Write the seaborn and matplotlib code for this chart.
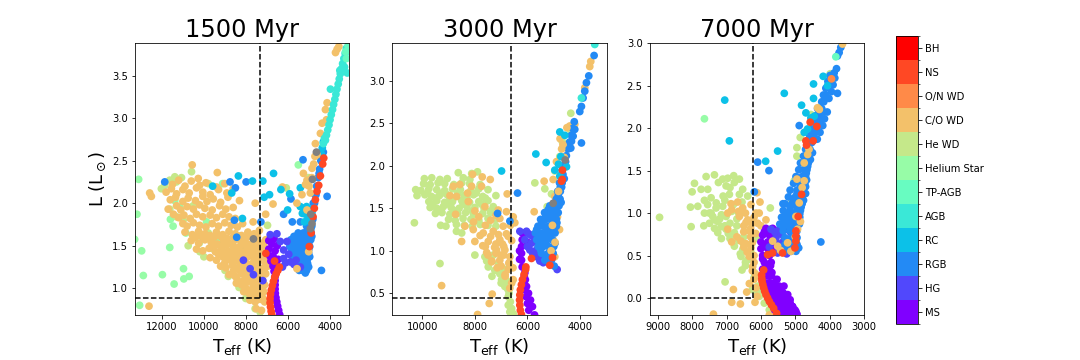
import numpy as np
import pandas as pd
import seaborn as sns
import matplotlib.pyplot as plt
from matplotlib.cm import ScalarMappable
from matplotlib.colors import BoundaryNorm, ListedColormap

stages = ['MS', 'HG', 'RGB', 'RC', 'AGB', 'TP-AGB', 'Helium Star', 'He WD', 'C/O WD', 'O/N WD', 'NS', 'BH']

ages = ['1500 Myr', '3000 Myr', '7000 Myr']
xlims = [(13284, 3056), (11140, 2986), (9240, 3000)]
ylims = [(0.686, 3.88), (0.244, 3.445), (-0.2, 3.0)]
xticks = [[12000, 10000, 8000, 6000, 4000], [10000, 8000, 6000, 4000], [9000, 8000, 7000, 6000, 5000, 4000, 3000]]
yticks = [[1.0, 1.5, 2.0, 2.5, 3.0, 3.5], [0.5, 1.0, 1.5, 2.0, 2.5, 3.0], [0.0, 0.5, 1.0, 1.5, 2.0, 2.5, 3.0]]
turnoff_t = [7330, 6634, 6242]
turnoff_l = [0.89, 0.448, 0.0]

# ---- 1500 Myr ----
hestar_t_1 = [13111, 13191, 13302, 12967, 11626, 10971, 11977, 12887, 10700, 10955, 11418, 13063, 11147, 11594, 11466, 10859, 11386, 5493, 9102, 9869, 9310]
hestar_l_1 = [2.28, 1.87, 1.575, 1.44, 1.48, 1.23, 1.16, 1.15, 1.14, 1.11, 1.05, 0.80, 1.95, 1.81, 1.73, 1.65, 2.03, 2.45, 2.23, 1.78, 1.55]
hewd_t_1 = [12025, 11865, 11626, 11386, 11067, 11306, 10588, 9789, 11626, 11306, 10987, 10747, 10108, 9789, 10220, 9997, 9629, 8990, 8831, 8320, 8000, 6962, 8192, 6068, 4998, 7314, 7553, 10508, 10188]
hewd_l_1 = [2.17, 2.21, 2.27, 2.31, 2.30, 2.25, 2.37, 2.23, 1.93, 1.84, 1.80, 1.50, 1.61, 1.65, 1.53, 1.37, 1.47, 1.21, 1.14, 1.01, 0.88, 1.74, 1.47, 2.18, 2.30, 0.72, 0.76, 1.97, 1.43]
co_t_1 = [11500, 11200, 10900, 10600, 10200, 9900, 9400, 9000,
          11800, 11550, 11300, 11000, 10700, 10350, 10050, 9700, 9300, 8900, 8600, 6250,
          11600, 11350, 11000, 10750, 10400, 10050, 9850, 9550, 9200, 8850, 8300,
          11700, 11300, 11100, 10800, 10500, 10200, 9950, 9600, 9250, 8950, 8600, 7550, 6700,
          11450, 11200, 10950, 10650, 10350, 10050, 9700, 9400, 9100, 8800, 8500, 7050,
          11000, 10800, 10500, 10200, 9900, 9600, 9300, 9000, 8700, 8400, 8150, 7650,
          10900, 10550, 10250, 9950, 9700, 9400, 9100, 8800, 8500, 8200, 7900, 7600, 7350,
          10400, 10100, 9800, 9500, 9200, 8900, 8600, 8300, 8000, 7700, 7450,
          10600, 10250, 9950, 9650, 9350, 9050, 8800, 8500, 8200, 7900, 7600, 7300, 7050,
          9500, 9200, 8900, 8600, 8300, 8000, 7700, 7400, 7150,
          10350, 10050, 9750, 9450, 9150, 8850, 8550, 8250, 7950, 7650, 7350, 7100,
          9300, 9000, 8700, 8400, 8100, 7800, 7500, 7200,
          9700, 9400, 9100, 8800, 8500, 8200, 7900, 7600, 7300, 7000,
          9000, 8600, 8300, 8000, 7700, 7400, 7050,
          9200, 8950, 8650, 8350, 8050, 7750, 7450, 7150, 6950,
          8600, 8300, 8000, 7700, 7400, 7100,
          8800, 8500, 8200, 7900, 7600, 7300, 7050,
          8400, 8100, 7800, 7500, 7200,
          8450, 8200, 7950, 7650, 7350, 7100,
          8000, 7700, 7450, 7200,
          8100, 7850, 7600, 7350, 7150,
          7650, 7400, 7200,
          7800, 7550, 7300, 7100,
          7500, 7250,
          10555, 9358, 12584, 12504, 12616, 10268]
co_l_1 = [2.22, 2.27, 2.20, 2.26, 2.21, 2.24, 2.19, 2.23,
          2.13, 2.17, 2.11, 2.16, 2.12, 2.18, 2.13, 2.10, 2.16, 2.12, 2.17, 2.19,
          2.04, 2.07, 2.02, 2.06, 2.03, 2.08, 2.02, 2.05, 2.01, 2.07, 2.03,
          1.93, 1.97, 1.92, 1.96, 1.93, 1.98, 1.94, 1.92, 1.97, 1.93, 1.95, 2.00, 1.99,
          1.87, 1.83, 1.86, 1.82, 1.87, 1.84, 1.86, 1.83, 1.87, 1.84, 1.82, 1.87,
          1.76, 1.73, 1.77, 1.74, 1.72, 1.76, 1.73, 1.77, 1.74, 1.72, 1.76, 1.78,
          1.66, 1.63, 1.67, 1.64, 1.62, 1.66, 1.63, 1.67, 1.64, 1.62, 1.66, 1.64, 1.68,
          1.60, 1.61, 1.59, 1.60, 1.61, 1.59, 1.60, 1.61, 1.59, 1.60, 1.61,
          1.56, 1.53, 1.57, 1.54, 1.52, 1.56, 1.53, 1.57, 1.54, 1.52, 1.56, 1.53, 1.57,
          1.50, 1.49, 1.51, 1.50, 1.49, 1.51, 1.50, 1.49, 1.51,
          1.46, 1.44, 1.47, 1.43, 1.46, 1.44, 1.47, 1.43, 1.46, 1.44, 1.47, 1.43,
          1.40, 1.39, 1.41, 1.40, 1.39, 1.41, 1.40, 1.39,
          1.36, 1.33, 1.37, 1.34, 1.36, 1.33, 1.37, 1.34, 1.36, 1.33,
          1.30, 1.29, 1.31, 1.30, 1.29, 1.31, 1.30,
          1.26, 1.24, 1.27, 1.24, 1.26, 1.24, 1.27, 1.24, 1.26,
          1.20, 1.21, 1.19, 1.20, 1.21, 1.19,
          1.16, 1.14, 1.17, 1.14, 1.16, 1.14, 1.17,
          1.10, 1.09, 1.11, 1.10, 1.09,
          1.06, 1.04, 1.07, 1.04, 1.06, 1.04,
          1.00, 0.99, 1.01, 1.00,
          0.96, 0.94, 0.97, 0.94, 0.96,
          0.90, 0.91, 0.89,
          0.86, 0.84, 0.87, 0.84,
          0.76, 0.74,
          2.45, 2.36, 2.12, 2.08, 0.79, 2.29]
ms_t_1 = [6380, 6430, 6480, 6520, 6560, 6590, 6600, 6600, 6600, 6600, 6650, 6700, 6800, 6850, 6500, 6550, 6700, 6900, 6450, 6600, 6750, 6500, 6650, 6800, 6900]
ms_l_1 = [0.69, 0.74, 0.79, 0.84, 0.89, 0.94, 0.99, 1.04, 1.09, 1.14, 1.20, 1.26, 1.32, 1.38, 1.22, 1.30, 1.38, 1.46, 1.34, 1.44, 1.52, 1.50, 1.58, 1.60, 1.56]
hg_t_1 = [6515, 6835, 6036, 6196, 5877, 5397, 7633, 7186, 7793, 8112, 6196, 5950, 6350, 6100, 5700, 6250, 5600]
hg_l_1 = [1.64, 1.63, 1.55, 1.45, 1.31, 1.25, 1.16, 1.09, 1.23, 1.33, 1.35, 1.40, 1.55, 1.30, 1.28, 1.25, 1.33]
rgb_t_1 = [5158, 5557, 5370, 5200, 5000, 5717, 5397, 5078, 5800, 5600, 5400, 5200, 5000, 5900, 5700, 5500, 5300, 5100, 4950, 5850, 5650, 5450, 5250, 5050, 4900, 5500, 5250, 5000, 4880, 5100, 4950, 4850, 4950, 4800, 4720, 4650, 4580, 4500, 4380, 4300,
           5270, 4120, 4390, 8432, 8751, 8495, 7984, 6196, 5780, 5397, 5844, 8543, 7280, 11865]
rgb_l_1 = [1.18, 1.25, 1.25, 1.25, 1.25, 1.33, 1.33, 1.33, 1.41, 1.41, 1.41, 1.41, 1.41, 1.49, 1.49, 1.49, 1.49, 1.49, 1.49, 1.57, 1.57, 1.57, 1.57, 1.57, 1.57, 1.65, 1.65, 1.65, 1.65, 1.73, 1.73, 1.73, 1.81, 1.81, 2.00, 2.10, 2.20, 2.35, 2.50, 2.60,
           2.51, 2.08, 1.21, 1.60, 2.25, 2.18, 2.25, 1.87, 1.78, 1.78, 2.05, 1.80, 1.78, 2.25]
rgb2_t_1 = [5450, 5280, 5100, 5650, 5450, 5250, 5050, 5750, 5550, 5350, 5150, 4950, 5800, 5600, 5400, 5200, 5000, 5800, 5600, 5400, 5200, 5000, 5700, 5400, 5150, 4950, 4850, 5050, 4900, 5050, 4880, 4850, 4780, 4700, 4620, 4540, 4480, 4420, 4350]
rgb2_l_1 = [1.21, 1.21, 1.21, 1.29, 1.29, 1.29, 1.29, 1.37, 1.37, 1.37, 1.37, 1.37, 1.45, 1.45, 1.45, 1.45, 1.45, 1.53, 1.53, 1.53, 1.53, 1.53, 1.61, 1.61, 1.61, 1.61, 1.61, 1.69, 1.69, 1.77, 1.77, 1.90, 2.00, 2.10, 2.20, 2.30, 2.40, 2.50, 2.60]
rc_t_1 = [9581, 8352, 7681, 7186, 6675, 7122, 6866, 6324, 5908, 5397, 6004, 8160, 8671, 5400, 5250, 5100, 4950, 5300, 5150, 5000, 4850, 5200, 5050, 4900, 4400, 4350, 4300]
rc_l_1 = [2.20, 2.32, 2.26, 2.26, 2.35, 2.07, 2.10, 2.16, 2.11, 2.18, 1.92, 1.82, 2.12, 1.96, 1.94, 1.96, 1.93, 1.88, 1.87, 1.86, 1.88, 1.78, 1.80, 1.78, 2.58, 2.65, 2.72]
co2_t_1 = [3560, 3720, 3640, 4120, 4200, 4150, 4360, 4440, 4680, 4600, 4840, 5080, 5320, 5560, 4920, 5080, 5000, 5557, 5250, 4700, 4980, 4760, 5150, 4850]
co2_l_1 = [3.84, 3.77, 3.81, 3.18, 3.10, 2.98, 2.94, 2.82, 2.70, 2.57, 2.41, 2.27, 2.10, 2.00, 2.12, 1.92, 1.43, 1.23, 2.35, 2.55, 2.20, 2.46, 2.22, 2.30]
agb_t_1 = [4200, 4150, 4090, 4030, 3980, 3920, 3860, 3810, 3750, 3700, 3650, 3590, 3540, 3490, 3430, 3380, 3320, 3260, 3200, 3960, 3513, 3162, 4300, 4250, 3290]
agb_l_1 = [2.74, 2.80, 2.86, 2.92, 2.98, 3.04, 3.10, 3.16, 3.22, 3.28, 3.34, 3.40, 3.46, 3.52, 3.58, 3.64, 3.70, 3.76, 3.82, 3.34, 3.56, 3.53, 2.70, 2.76, 3.60]
tpagb_t_1 = [3240, 3120, 3200]
tpagb_l_1 = [3.78, 3.85, 3.70]
ns_t_1 = [6760, 6790, 6820, 6840, 6840, 6820, 6780, 6730, 6680, 6620, 6550, 6470, 6400, 4790, 4730, 4680, 4600, 4520, 4440, 4330, 4280, 4880, 4970, 6627, 7042]
ns_l_1 = [0.69, 0.73, 0.78, 0.83, 0.88, 0.93, 0.98, 1.03, 1.08, 1.13, 1.17, 1.21, 1.25, 1.84, 1.94, 2.04, 2.14, 2.21, 2.32, 2.46, 2.53, 1.65, 1.49, 1.32, 1.41]
grey_t_1 = [4630, 4820, 4900, 4840, 4920, 7633]
grey_l_1 = [2.60, 2.28, 1.87, 1.76, 1.70, 1.58]

# ---- 3000 Myr ----
hewd_t_2 = [8630, 8120, 7900,
            9920, 9640, 9330, 9050, 8440, 8190,
            9950, 9700, 9400, 9150, 8800, 8500, 8200, 7800,
            10250, 10050, 9750, 9450, 9150, 8850, 8550, 8150, 7850, 7500,
            10200, 9900, 9650, 9350, 9050, 8700, 8400, 8050, 7700, 7200,
            9750, 9450, 9150, 8850, 8500, 8200, 7850, 7500,
            9700, 9450, 9200, 8900, 8600, 8300, 8000, 7650, 7300,
            9500, 9250, 8950, 8650, 8350, 8050, 7700, 7400,
            9000, 8750, 8450, 8150, 7850, 7500, 7200,
            9300, 9100, 8700, 8400, 8100, 7800, 7500, 7200,
            8700, 8500, 8000, 9327, 7618,
            7490, 7240, 7050, 6985, 6860, 6730, 6730, 6670, 6540, 10300,
            4352, 4680, 4390, 5719, 5340, 5086, 5250, 4960, 4770, 6600, 6850,
            7300, 7100, 6900, 6800, 6750, 7550, 7350, 7000, 6650, 6700, 6600,
            9800, 9500, 9250, 8950, 8650, 8300, 7950, 7600, 9600, 9300, 9000, 8750, 8450, 8100, 7750, 7400]
hewd_l_2 = [1.92, 1.91, 1.93,
            1.85, 1.86, 1.84, 1.85, 1.86, 1.84,
            1.79, 1.78, 1.80, 1.79, 1.78, 1.80, 1.79, 1.78,
            1.72, 1.71, 1.73, 1.72, 1.71, 1.73, 1.72, 1.71, 1.73, 1.72,
            1.65, 1.66, 1.64, 1.65, 1.66, 1.64, 1.65, 1.66, 1.64, 1.65,
            1.58, 1.59, 1.57, 1.58, 1.59, 1.57, 1.58, 1.59,
            1.51, 1.50, 1.52, 1.51, 1.50, 1.52, 1.51, 1.50, 1.52,
            1.44, 1.45, 1.43, 1.44, 1.45, 1.43, 1.44, 1.45,
            1.37, 1.36, 1.38, 1.37, 1.36, 1.38, 1.37,
            1.30, 1.29, 1.31, 1.30, 1.29, 1.31, 1.30, 1.29,
            1.23, 1.21, 0.95, 0.85, 0.93,
            0.81, 0.77, 0.73, 0.66, 0.58, 0.46, 0.36, 0.28, 0.26, 1.33,
            2.62, 2.29, 2.43, 1.80, 1.73, 1.67, 1.52, 1.94, 2.11, 1.35, 0.78,
            0.95, 0.85, 0.75, 0.65, 0.55, 0.88, 0.70, 0.62, 0.40, 0.50, 0.32,
            1.68, 1.62, 1.68, 1.62, 1.68, 1.62, 1.68, 1.62, 1.55, 1.47, 1.55, 1.47, 1.55, 1.47, 1.55, 1.47]
co_t_2 = [8086, 7719, 7415, 8570, 8820, 8125, 7745, 8694, 8947, 8276, 7618, 7111, 6770, 8732, 7998, 8378, 8061, 7681, 7302, 6922, 6542, 6480, 8504, 8000, 7491, 7050, 6732, 7175, 6858, 7365, 7050, 6670, 6732, 6542, 6670, 7340, 7453, 9264, 7897, 5365, 5744,
          7600, 7200, 6900, 7500, 7000, 6700, 7150, 6850,
          7800, 7400, 7100, 6800, 7700, 7250, 6950, 6650, 7550, 7200, 6900, 6600, 7350, 7000, 6700, 6550, 6850, 6600,
          8250, 7850, 7400, 7050, 8050, 7600, 7200, 6800,
          4896, 5023, 4960, 4200, 4390, 3592, 3630, 3820, 4516, 5023, 4960, 4860, 4780]
co_l_2 = [1.90, 1.87, 1.84, 1.78, 1.76, 1.76, 1.76, 1.64, 1.65, 1.68, 1.52, 1.48, 1.67, 1.43, 1.47, 1.29, 1.25, 1.21, 1.23, 1.29, 1.40, 1.33, 1.11, 1.11, 1.11, 1.13, 1.17, 1.01, 1.01, 0.87, 0.89, 0.93, 0.78, 0.66, 0.56, 0.49, 0.38, 0.59, 0.25, 1.82, 1.46,
          1.05, 1.08, 1.05, 0.95, 0.95, 0.85, 0.80, 0.72,
          1.18, 1.17, 1.19, 1.20, 1.06, 1.04, 1.08, 1.30, 0.98, 0.97, 0.95, 1.12, 0.88, 0.82, 0.86, 0.80, 0.70, 0.62,
          1.58, 1.40, 1.36, 1.38, 1.34, 1.30, 1.42, 1.46,
          2.05, 1.84, 1.64, 2.49, 2.47, 3.23, 3.17, 2.92, 2.21, 1.13, 0.93, 1.40, 1.25]
ms_t_2 = [5730, 5810, 5884, 5960, 6036, 6080, 6100, 6200, 6225, 6225, 6225, 6200, 6200, 6050, 6000, 5950, 6000, 6050, 6100, 6120, 6120, 6300, 6300]
ms_l_2 = [0.245, 0.343, 0.42, 0.50, 0.58, 0.66, 0.74, 0.81, 0.89, 0.97, 1.05, 1.13, 1.21, 1.22, 1.10, 0.30, 0.38, 0.46, 0.54, 0.62, 0.70, 1.00, 0.90]
hg_t_2 = [6289, 6036, 5782, 6099, 5846, 5592, 5909, 5529, 4871, 5950, 5700, 5800, 5650, 6000, 5850, 5700, 5600, 5500, 5400]
hg_l_2 = [1.23, 1.23, 1.17, 1.13, 1.09, 1.05, 1.01, 0.88, 0.78, 1.20, 1.12, 0.97, 0.93, 1.05, 1.18, 1.00, 0.95, 0.92, 0.86]
rgb_t_2 = [4980, 5086, 5340, 5466, 5213, 5023, 5590, 5400, 5200, 5000, 5650, 5450, 5250, 5050,
           5700, 5500, 5300, 5100, 4950, 5600, 5400, 5200, 5000, 4900, 5500, 5300, 5100, 4900, 5350, 5150, 4950, 4830, 5150, 4950, 4800, 4900, 4760, 4850, 4750, 4780, 4680, 4700, 4650, 4640, 4570,
           4263, 4326, 4200, 3947, 4010, 3947, 3883, 3820, 3757, 3668, 3465, 4352, 7137, 6377, 6668]
rgb_l_2 = [0.82, 0.89, 0.89, 0.97, 0.97, 0.97, 1.05, 1.05, 1.05, 1.05, 1.13, 1.13, 1.13, 1.13,
           1.21, 1.21, 1.21, 1.21, 1.21, 1.29, 1.29, 1.29, 1.29, 1.29, 1.37, 1.37, 1.37, 1.37, 1.45, 1.45, 1.45, 1.45, 1.53, 1.53, 1.53, 1.61, 1.61, 1.70, 1.70, 1.80, 1.80, 1.90, 1.90, 2.00, 2.00,
           2.35, 2.29, 2.43, 2.27, 2.64, 2.70, 2.80, 2.88, 2.98, 3.06, 3.30, 2.21, 1.44, 1.68, 1.35]
rgb2_t_2 = [5150, 5300, 5500, 5100, 5350, 5550, 4950, 5350, 5150, 5550, 5000, 5650, 5250, 5450, 5050, 4880, 5300, 5100, 4930, 5200, 5050, 4850, 4720, 4830, 4700, 4750, 4600, 4680, 4550, 4520, 4450, 4400, 4330, 4280, 4220]
rgb2_l_2 = [0.85, 0.93, 1.01, 1.01, 1.09, 1.09, 1.09, 1.17, 1.17, 1.17, 1.25, 1.25, 1.25, 1.33, 1.33, 1.33, 1.41, 1.41, 1.41, 1.49, 1.49, 1.57, 1.57, 1.65, 1.75, 1.75, 1.85, 1.95, 2.05, 2.12, 2.20, 2.28, 2.36, 2.44, 2.52]
rc_t_2 = [6985, 5681, 5289, 4770, 4580, 4732, 4960, 4516, 4770, 4820]
rc_l_2 = [1.94, 2.14, 2.04, 2.40, 2.36, 2.11, 1.95, 1.99, 1.88, 2.02]
co3_t_2 = [4700, 4950, 5100, 4650, 5050, 4820, 4600, 4500, 4760]
co3_l_2 = [2.20, 1.10, 1.00, 2.25, 1.30, 1.70, 2.10, 2.45, 2.32]
agb_t_2 = [3947, 3440]
agb_l_2 = [2.80, 3.43]
ns_t_2 = [6230, 6270, 6290, 6300, 6290, 6270, 6230, 6190, 6130, 6070, 6060, 5846, 5048, 5150, 4668, 4680, 4706]
ns_l_2 = [0.25, 0.30, 0.36, 0.42, 0.48, 0.54, 0.60, 0.66, 0.72, 0.78, 0.81, 0.91, 0.92, 0.83, 1.95, 1.84, 1.82]
grey_t_2 = [4567, 5023]
grey_l_2 = [2.07, 1.56]

# ---- 7000 Myr ----
hestar_t_3 = [7644]
hestar_l_3 = [2.11]
tpagb_t_3 = [3820]
tpagb_l_3 = [2.84]
hewd_t_3 = [8950, 8031, 8050, 7934, 8002, 7595, 7353, 6792, 6627, 6966, 7111, 7237, 7740, 7547, 7014, 6773, 6530, 6918, 6627, 6385, 7644, 7450, 7837, 7305, 7644, 7402, 7111, 7663, 7498, 7256, 7014, 7256, 7014, 6773, 6773, 6530, 6579, 6385, 6550, 7043, 6095, 6046, 5901, 5756, 6192,
            7500, 7350, 7200, 7050, 6900, 6700, 7100, 6900, 6500, 6600, 6300, 6450, 6300, 6200, 6150,
            7550, 7300, 7050, 6800, 6550, 7450, 7150, 6850, 6650, 7350, 7150, 6950, 6700, 7150, 6900, 6650, 6500, 6450, 6250, 6100, 6000,
            5727, 5098, 5030, 4953, 4953, 4856, 4546, 3984, 5727, 6240]
hewd_l_3 = [0.95, 0.84, 1.07, 1.35, 1.25, 1.43, 1.45, 1.44, 1.40, 1.41, 1.40, 1.36, 1.28, 1.28, 1.32, 1.36, 1.28, 1.22, 1.22, 1.20, 1.15, 1.18, 1.08, 1.06, 1.00, 0.96, 1.08, 0.85, 0.88, 0.90, 0.96, 0.77, 0.81, 0.77, 0.61, 0.57, 0.49, 0.45, 0.33, 0.19, 0.14, 0.02, -0.06, -0.14, 0.30,
            1.00, 0.82, 0.93, 0.85, 0.88, 0.85, 1.20, 1.30, 0.72, 0.52, 0.78, 0.38, 0.55, 0.24, 0.70,
            1.10, 1.12, 1.15, 1.10, 1.13, 1.00, 0.98, 1.02, 1.00, 0.92, 0.84, 0.76, 0.93, 0.70, 0.70, 0.68, 0.63, 0.42, 0.10, 0.06, 0.10,
            1.06, 1.15, 1.38, 1.77, 1.67, 1.89, 2.16, 2.64, 0.81, 0.69]
co_t_3 = [6114, 6027, 6676, 6869, 6850, 6530, 6289, 6143, 5853, 6095, 6385, 6627, 6434, 6966, 6850, 6579, 6434, 6289, 6337, 6240, 6337, 6801, 6414, 6850, 6598, 6172, 6114, 7382, 5756, 6966, 6337,
          6200, 6300, 6500, 6200, 6150, 6000, 6650, 6450, 6250, 6050, 6500, 6300, 6150, 6700, 6500, 6250, 6400, 6200, 6250, 6200, 6150]
co_l_3 = [1.24, 1.13, 1.13, 1.11, 1.04, 1.06, 1.10, 1.00, 0.92, 0.88, 0.92, 0.96, 0.89, 0.81, 0.66, 0.67, 0.64, 0.59, 0.49, 0.37, 0.17, 0.10, 0.07, -0.05, -0.07, -0.05, 0.02, -0.19, -0.20, 1.00, 0.79,
          0.95, 0.72, 0.78, 0.50, 0.28, 0.85, 1.02, 1.00, 0.88, 1.00, 0.85, 0.82, 0.76, 0.72, 0.60, 0.65, 0.54, 0.42, 0.32, 0.22, 0.12]
ms_t_3 = [5853, 5659, 5950, 5750, 5550, 6000, 5800, 5600, 6000, 5800, 5600, 5950, 5750, 5900, 5700, 5950, 5800,
          5950, 5820, 5690, 5900, 5750, 5600, 5850, 5700, 5550, 5420, 5800, 5650, 5500, 5350, 5280, 5700, 5550, 5400, 5250, 5150, 5600, 5450, 5300, 5150, 5010, 5500, 5350, 5200, 5050, 4950,
          5900, 5700, 5500, 5900, 5700, 5950, 5850, 5720, 5830, 5680, 5530, 5780, 5620, 5470, 5330, 5650, 5500, 5350, 5220, 5600, 5450, 5300, 5150, 5080, 5530, 5380, 5230, 5080, 4980]
ms_l_3 = [0.82, 0.82, 0.74, 0.74, 0.74, 0.66, 0.66, 0.66, 0.58, 0.58, 0.58, 0.50, 0.50, 0.42, 0.42, 0.34, 0.34,
          0.26, 0.26, 0.26, 0.18, 0.18, 0.18, 0.10, 0.10, 0.10, 0.10, 0.02, 0.02, 0.02, 0.02, 0.02, -0.06, -0.06, -0.06, -0.06, -0.06, -0.14, -0.14, -0.14, -0.14, -0.14, -0.19, -0.19, -0.19, -0.19, -0.19,
          0.78, 0.78, 0.78, 0.62, 0.62, 0.46, 0.38, 0.38, 0.30, 0.30, 0.22, 0.14, 0.14, 0.14, 0.14, 0.06, 0.06, 0.06, 0.04, -0.02, -0.02, -0.02, -0.02, -0.10, -0.10, -0.10, -0.10, -0.10, -0.16]
hg_t_3 = [5707, 5466, 5272, 5562, 5320, 5127, 5756, 5514, 5320, 5600, 5400, 5200, 5500, 5550, 5350, 5450, 5250, 5150]
hg_l_3 = [0.81, 0.81, 0.81, 0.71, 0.69, 0.69, 0.60, 0.53, 0.57, 0.78, 0.75, 0.62, 0.62, 0.66, 0.66, 0.58, 0.52, 0.78]
rgb_t_3 = [5320, 5127, 4980, 5300, 5100, 4950, 5300, 5120, 4950, 5350, 5150, 4950, 5450, 5250, 5050, 4880, 5400, 5200, 5000, 4870, 5350, 5150, 4950, 4850, 5300, 5100, 4920, 4800, 5200, 5000, 4800, 5150, 4950, 4770, 5050, 4850, 4720, 4980, 4800, 4700, 4900, 4750, 4660, 4850, 4720, 4620, 4760, 4600, 4700, 4570, 4650, 4520, 4580, 4470, 4520, 4420, 4450, 4350, 4380, 4300, 4350, 4230, 4230, 4170, 4180, 4120, 4110, 4050, 3990, 3772, 3723, 3675,
           4256, 3772, 6095, 5766, 6192, 5359, 4885, 3868]
rgb_l_3 = [0.55, 0.55, 0.55, 0.63, 0.63, 0.63, 0.71, 0.71, 0.71, 0.79, 0.79, 0.79, 0.87, 0.87, 0.87, 0.87, 0.95, 0.95, 0.95, 0.95, 1.03, 1.03, 1.03, 1.03, 1.11, 1.11, 1.11, 1.11, 1.19, 1.19, 1.19, 1.27, 1.27, 1.27, 1.35, 1.35, 1.35, 1.43, 1.43, 1.43, 1.51, 1.51, 1.51, 1.59, 1.59, 1.59, 1.67, 1.67, 1.75, 1.75, 1.83, 1.83, 1.91, 1.91, 1.99, 1.99, 2.07, 2.07, 2.15, 2.15, 2.23, 2.23, 2.31, 2.31, 2.39, 2.39, 2.47, 2.55, 2.62, 2.85, 2.89, 2.95,
           0.66, 2.41, 1.60, 1.50, 1.25, 1.11, 2.03, 2.65]
rgb2_t_3 = [5250, 5050, 4900, 5200, 5000, 5350, 5150, 4950, 5300, 5100, 4920, 5250, 5050, 4870, 5150, 4950, 4830, 5050, 4880, 4760, 4950, 4800, 4700, 4850, 4700, 4800, 4670, 4680, 4640, 4560, 4600, 4500, 4490, 4360, 4420, 4280, 4330, 4200, 4260, 4150, 4180, 4070, 4020, 3950, 3900, 3850, 3800]
rgb2_l_3 = [0.59, 0.59, 0.59, 0.67, 0.67, 0.83, 0.83, 0.83, 0.91, 0.91, 0.91, 0.99, 0.99, 0.99, 1.07, 1.07, 1.07, 1.15, 1.15, 1.15, 1.23, 1.23, 1.23, 1.31, 1.31, 1.39, 1.39, 1.47, 1.55, 1.63, 1.71, 1.71, 1.87, 1.87, 1.95, 1.95, 2.03, 2.03, 2.11, 2.11, 2.19, 2.19, 2.35, 2.43, 2.51, 2.59, 2.70]
co2_t_3 = [4352, 4300, 3626, 4740, 4640, 4885, 4982, 4953, 4740, 5659, 5514, 5224, 5430, 4933, 5127, 4600, 4800, 5000, 4850]
co2_l_3 = [2.24, 2.22, 2.99, 1.59, 1.69, 1.12, 0.96, 1.40, 1.38, 0.67, 0.61, 0.65, 0.56, 0.81, 0.55, 1.75, 1.30, 0.72, 0.90]
rc_t_3 = [7053, 6918, 5862, 5514, 5320, 4817, 4469, 4188, 4469, 4691, 4546, 4643, 4740, 4449, 4062]
rc_l_3 = [2.33, 1.85, 1.61, 1.73, 2.41, 2.27, 2.52, 2.61, 2.35, 2.18, 2.12, 1.99, 1.95, 2.14, 2.50]
onwd_t_3 = [3946]
onwd_l_3 = [2.58]
ns_t_3 = [5920, 5979, 5975, 5969, 5945, 5920, 5890, 5853, 5805, 5756, 5695, 5630, 5543, 5804, 5659, 5369, 4982, 4982, 4982, 5010, 4914, 4817, 4478, 4691, 4672, 4566, 4372]
ns_l_3 = [0.33, 0.27, 0.23, 0.20, 0.16, 0.12, 0.08, 0.04, 0.00, -0.04, -0.08, -0.12, -0.18, 0.51, 0.53, 0.53, 0.79, 0.73, 0.67, 0.59, 0.96, 1.22, 1.85, 1.85, 1.80, 2.07, 2.02]

# draw order per panel, later groups land on top
panel_groups = [
    [('Helium Star', hestar_t_1, hestar_l_1), ('He WD', hewd_t_1, hewd_l_1), ('C/O WD', co_t_1, co_l_1),
     ('RGB', rgb_t_1, rgb_l_1), ('RGB', rgb2_t_1, rgb2_l_1), ('RC', rc_t_1, rc_l_1), ('MS', ms_t_1, ms_l_1), ('HG', hg_t_1, hg_l_1),
     ('C/O WD', co2_t_1, co2_l_1), ('AGB', agb_t_1, agb_l_1), ('TP-AGB', tpagb_t_1, tpagb_l_1),
     ('NS', ns_t_1, ns_l_1), ('grey', grey_t_1, grey_l_1)],
    [('He WD', hewd_t_2, hewd_l_2), ('C/O WD', co_t_2, co_l_2), ('MS', ms_t_2, ms_l_2), ('HG', hg_t_2, hg_l_2),
     ('RGB', rgb_t_2, rgb_l_2), ('RGB', rgb2_t_2, rgb2_l_2), ('C/O WD', co3_t_2, co3_l_2), ('RC', rc_t_2, rc_l_2), ('AGB', agb_t_2, agb_l_2),
     ('NS', ns_t_2, ns_l_2), ('grey', grey_t_2, grey_l_2)],
    [('Helium Star', hestar_t_3, hestar_l_3), ('He WD', hewd_t_3, hewd_l_3), ('C/O WD', co_t_3, co_l_3),
     ('MS', ms_t_3, ms_l_3), ('HG', hg_t_3, hg_l_3), ('RGB', rgb_t_3, rgb_l_3), ('RGB', rgb2_t_3, rgb2_l_3), ('C/O WD', co2_t_3, co2_l_3),
     ('RC', rc_t_3, rc_l_3), ('TP-AGB', tpagb_t_3, tpagb_l_3), ('O/N WD', onwd_t_3, onwd_l_3), ('NS', ns_t_3, ns_l_3)],
]

cmap = plt.get_cmap('rainbow', len(stages))
colors = [cmap(i) for i in range(len(stages))]
palette = dict(zip(stages, colors))
palette['grey'] = 'gray'


def panel_table(groups):
    frames = [pd.DataFrame({'teff': t, 'lum': l, 'stage': name}) for name, t, l in groups]
    return pd.concat(frames, ignore_index=True)


fig, axs = plt.subplots(1, 3, figsize=(15, 5))
fig.subplots_adjust(right=0.8, bottom=0.125)

for i, ax in enumerate(axs):
    sns.scatterplot(data=panel_table(panel_groups[i]), x='teff', y='lum', hue='stage', palette=palette,
                    s=60, linewidth=0, legend=False, ax=ax)
    ax.plot([turnoff_t[i], turnoff_t[i]], [turnoff_l[i], ylims[i][1]], 'k--', lw=1.5)
    ax.plot([xlims[i][0], turnoff_t[i]], [turnoff_l[i], turnoff_l[i]], 'k--', lw=1.5)
    ax.set_xlim(xlims[i])
    ax.set_ylim(ylims[i])
    ax.set_xticks(xticks[i])
    ax.set_yticks(yticks[i])
    ax.set_title(ages[i], fontsize=24)
    ax.set_xlabel(r'T$_{\rm eff}$ (K)', fontsize=18)
    ax.set_ylabel('')
axs[0].set_ylabel(r'L (L$_\odot$)', fontsize=18)

cax = fig.add_axes([0.83, 0.1, 0.02, 0.8])
bounds = np.arange(len(stages) + 1)
sm = ScalarMappable(norm=BoundaryNorm(bounds, len(stages)), cmap=ListedColormap(colors))
cbar = fig.colorbar(sm, cax=cax, ticks=bounds[:-1] + 0.5, spacing='proportional')
cbar.ax.set_yticklabels(stages)

fig.savefig('out.png', dpi=72)
